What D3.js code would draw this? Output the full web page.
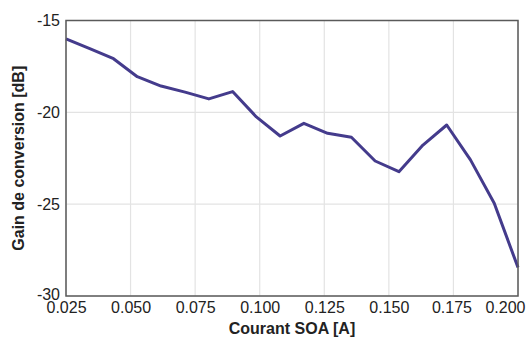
<!DOCTYPE html>
<html><head><meta charset="utf-8">
<script src="https://cdn.jsdelivr.net/npm/d3@7"></script>
<style>body{margin:0;background:#fff}svg{display:block}text{font-family:"Liberation Sans",Arial,sans-serif}</style>
</head><body>
<svg id="c" width="529" height="338"></svg>
<script>
const current = [0.025,0.0342,0.0434,0.0526,0.0618,0.0711,0.0803,0.0895,0.0987,0.1079,0.1171,0.1263,0.1355,0.1447,0.1539,0.1632,0.1724,0.1816,0.1908,0.2];
const gain = [-16.0,-16.53,-17.08,-18.06,-18.57,-18.9,-19.27,-18.87,-20.25,-21.29,-20.6,-21.14,-21.36,-22.65,-23.23,-21.78,-20.69,-22.59,-24.95,-28.45];
const xTicks = [0.025,0.050,0.075,0.100,0.125,0.150,0.175,0.200];
const yTicks = [-15,-20,-25,-30];
const xTitle = "Courant SOA [A]";
const yTitle = "Gain de conversion [dB]";

const L=66,R=518,T=20.5,B=296;
const svg=d3.select("#c");
const x=d3.scaleLinear().domain([0.025,0.2]).range([L,R]);
const y=d3.scaleLinear().domain([-30,-15]).range([B,T]);

const g=svg.append("g");
g.selectAll(".gx").data(xTicks).join("line").attr("x1",d=>x(d)).attr("x2",d=>x(d)).attr("y1",T).attr("y2",B).attr("stroke","#e3e3e3").attr("stroke-width",1.2);
g.selectAll(".gy").data(yTicks).join("line").attr("y1",d=>y(d)).attr("y2",d=>y(d)).attr("x1",L).attr("x2",R).attr("stroke","#e3e3e3").attr("stroke-width",1.2);

svg.append("path").datum(current.map((c,i)=>[c,gain[i]]))
 .attr("d",d3.line().x(d=>x(d[0])).y(d=>y(d[1])))
 .attr("fill","none").attr("stroke","#443b8c").attr("stroke-width",3).attr("stroke-linejoin","round");

svg.append("rect").attr("x",L).attr("y",T).attr("width",R-L).attr("height",B-T).attr("fill","none").attr("stroke","#5a5a5a").attr("stroke-width",1.5);

const xa=d3.axisBottom(x).tickValues(xTicks).tickFormat(d3.format(".3f")).tickSize(0).tickPadding(6);
const ya=d3.axisLeft(y).tickValues(yTicks).tickFormat(d=>String(d)).tickSize(0).tickPadding(6);
const gx=svg.append("g").attr("transform",`translate(0,${B})`).call(xa);
const gy=svg.append("g").attr("transform",`translate(${L},0)`).call(ya);
[gx,gy].forEach(a=>{a.select(".domain").remove();a.selectAll("text").attr("font-size",16).attr("fill","#222").style("font-family","'Liberation Sans',Arial,sans-serif");});
// keep last x label inside the picture, as in the reference
gx.selectAll(".tick").filter(d=>d===0.2).select("text").attr("text-anchor","end").attr("x",525-R);
gx.selectAll(".tick").filter(d=>d===0.175).select("text").attr("x",-2);
gy.selectAll(".tick").filter(d=>d===-30).select("text").attr("y",-2);

svg.append("text").attr("x",(L+R)/2).attr("y",334).attr("text-anchor","middle").attr("font-size",16).attr("font-weight","bold").attr("fill","#222").text(xTitle);
svg.append("text").attr("transform",`translate(24,${(T+B)/2}) rotate(-90)`).attr("text-anchor","middle").attr("font-size",16).attr("font-weight","bold").attr("fill","#222").text(yTitle);
</script>
</body></html>
